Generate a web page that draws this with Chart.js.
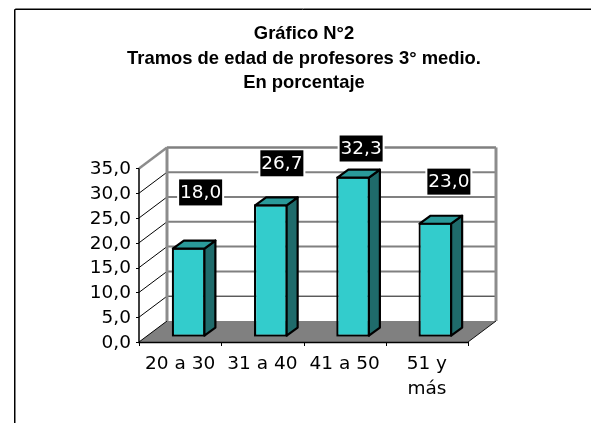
<!DOCTYPE html>
<html>
<head>
<meta charset="utf-8">
<style>html,body{margin:0;padding:0;background:#fff}canvas{display:block}#w{width:591px;height:423px;position:relative}</style>
<script src="https://cdn.jsdelivr.net/npm/chart.js@4/dist/chart.umd.min.js"></script>
</head>
<body>
<div id="w"><canvas id="c"></canvas></div>
<script>
const categories = [["20 a 30"], ["31 a 40"], ["41 a 50"], ["51 y", "más"]];
const values = [18.0, 26.7, 32.3, 23.0];
const titleLines = ["Gráfico N°2", "Tramos de edad de profesores 3° medio.", "En porcentaje"];
const yMax = 35;
const yStep = 5;

const DEPTH_X = 28, DEPTH_Y = 21;
const BAR_SHIFT_X = 8.5, BAR_SHIFT_Y = 5.3, BAR_DX = 11, BAR_DY = 8, BAR_LINE = 2.2;
const LABEL_OFFSET_X = [12, 11, 8, 13.5];
const LABEL_OFFSET_Y = [55, 41, 28, 41];

const box3d = {
  id: 'box3d',
  beforeDraw(chart) {
    const ctx = chart.ctx;
    const {left: L, right: R, top: T, bottom: B} = chart.chartArea;
    const y = chart.scales.y;
    ctx.save();
    // outer frame
    ctx.lineWidth = 1;
    ctx.strokeStyle = '#808080';
    ctx.beginPath(); ctx.moveTo(15.5, 423); ctx.lineTo(15.5, 8.5); ctx.lineTo(591, 8.5); ctx.stroke();
    ctx.strokeStyle = '#000';
    ctx.beginPath(); ctx.moveTo(14.5, 423); ctx.lineTo(14.5, 9.5); ctx.lineTo(591, 9.5); ctx.stroke();
    // floor
    ctx.fillStyle = '#808080';
    ctx.beginPath(); ctx.moveTo(L, B); ctx.lineTo(R, B); ctx.lineTo(R + DEPTH_X, B - DEPTH_Y); ctx.lineTo(L + DEPTH_X, B - DEPTH_Y); ctx.closePath(); ctx.fill();
    // wall gridlines and side-wall diagonals
    for (let v = 0; v <= yMax; v += yStep) {
      const py = y.getPixelForValue(v);
      const top = v === yMax;
      ctx.strokeStyle = top ? '#8c8c8c' : '#000'; ctx.lineWidth = top ? 2.5 : 1;
      ctx.beginPath(); ctx.moveTo(L, py); ctx.lineTo(L + DEPTH_X, py - DEPTH_Y); ctx.stroke();
      if (v > 0) {
        ctx.strokeStyle = v === yStep ? '#111' : '#808080'; ctx.lineWidth = v === yStep ? 1 : (top ? 2.5 : 2);
        ctx.beginPath(); ctx.moveTo(L + DEPTH_X, py - DEPTH_Y); ctx.lineTo(R + DEPTH_X, py - DEPTH_Y); ctx.stroke();
      }
    }
    // back-wall edges
    ctx.strokeStyle = '#8c8c8c'; ctx.lineWidth = 3;
    [L, R].forEach(px => {
      ctx.beginPath(); ctx.moveTo(px + DEPTH_X, T - DEPTH_Y); ctx.lineTo(px + DEPTH_X, B - DEPTH_Y); ctx.stroke();
    });
    // floor right edge
    ctx.strokeStyle = '#111'; ctx.lineWidth = 1;
    ctx.beginPath(); ctx.moveTo(R, B); ctx.lineTo(R + DEPTH_X, B - DEPTH_Y); ctx.stroke();
    // front axes
    ctx.strokeStyle = '#000'; ctx.lineWidth = 1.5;
    ctx.beginPath(); ctx.moveTo(L, T); ctx.lineTo(L, B + .5); ctx.lineTo(R, B + .5); ctx.stroke();
    ctx.lineWidth = 1;
    const n = categories.length;
    for (let i = 0; i <= n; i++) {
      const px = Math.round(L + (R - L) * i / n) + .5;
      ctx.beginPath(); ctx.moveTo(px, B); ctx.lineTo(px, B + 4); ctx.stroke();
    }
    for (let v = 0; v <= yMax; v += yStep) {
      const py = Math.round(y.getPixelForValue(v)) + .5;
      ctx.beginPath(); ctx.moveTo(L - 3, py); ctx.lineTo(L, py); ctx.stroke();
    }
    ctx.restore();
  },
  beforeDatasetDraw(chart) {
    chart.ctx.save();
    chart.ctx.translate(BAR_SHIFT_X, -BAR_SHIFT_Y);
  },
  afterDatasetDraw(chart) {
    const ctx = chart.ctx;
    const inset = BAR_LINE / 2;
    chart.getDatasetMeta(0).data.forEach(b => {
      const l = b.x - b.width / 2 + inset, r = b.x + b.width / 2 - inset, t = b.y + inset, base = b.base - inset;
      ctx.lineWidth = BAR_LINE; ctx.strokeStyle = '#000'; ctx.lineJoin = 'round';
      ctx.fillStyle = '#1f6b6b';
      ctx.beginPath(); ctx.moveTo(r, t); ctx.lineTo(r + BAR_DX, t - BAR_DY); ctx.lineTo(r + BAR_DX, base - BAR_DY); ctx.lineTo(r, base); ctx.closePath(); ctx.fill(); ctx.stroke();
      ctx.fillStyle = '#2a9a9a';
      ctx.beginPath(); ctx.moveTo(l, t); ctx.lineTo(l + BAR_DX, t - BAR_DY); ctx.lineTo(r + BAR_DX, t - BAR_DY); ctx.lineTo(r, t); ctx.closePath(); ctx.fill(); ctx.stroke();
    });
    ctx.restore();
  },
  afterDatasetsDraw(chart) {
    const ctx = chart.ctx;
    ctx.save();
    ctx.font = '18.5px "DejaVu Sans"';
    ctx.textAlign = 'center'; ctx.textBaseline = 'middle';
    chart.getDatasetMeta(0).data.forEach((b, i) => {
      const cx = b.x + BAR_SHIFT_X + LABEL_OFFSET_X[i];
      const cy = b.y - BAR_SHIFT_Y - LABEL_OFFSET_Y[i];
      ctx.fillStyle = '#fff'; ctx.fillRect(cx - 23.5, cy - 14, 47, 28);
      ctx.fillStyle = '#000'; ctx.fillRect(cx - 21.5, cy - 13, 43, 26);
      ctx.fillStyle = '#fff';
      ctx.fillText(values[i].toFixed(1).replace('.', ','), cx, cy + 1);
    });
    ctx.restore();
  }
};

new Chart(document.getElementById('c'), {
  type: 'bar',
  data: {
    labels: categories,
    datasets: [{
      data: values,
      backgroundColor: '#33cccc',
      borderColor: '#000',
      borderWidth: BAR_LINE,
      borderSkipped: false,
      barPercentage: 0.41,
      categoryPercentage: 1
    }]
  },
  options: {
    responsive: true,
    maintainAspectRatio: false,
    animation: false,
    layout: {padding: {left: 17, right: 0, top: 10, bottom: 0}},
    plugins: {
      legend: {display: false},
      tooltip: {enabled: false},
      title: {
        display: true,
        text: titleLines,
        color: '#000',
        font: {family: '"Liberation Sans"', size: 18.4, weight: 'bold', lineHeight: 1.33},
        padding: {top: 12, bottom: 73}
      }
    },
    scales: {
      x: {
        grid: {display: false},
        border: {display: false},
        ticks: {color: '#000', font: {family: '"DejaVu Sans"', size: 18.5, lineHeight: 1.35}, maxRotation: 0, autoSkip: false, padding: 2},
        afterFit(s) { s.height = 81; }
      },
      y: {
        min: 0, max: yMax,
        grid: {display: false, drawTicks: false},
        border: {display: false},
        ticks: {stepSize: yStep, color: '#000', font: {family: '"DejaVu Sans"', size: 18.5},
          autoSkip: false,
          padding: 8,
          labelOffset: 1,
          callback: v => v.toFixed(1).replace('.', ',')},
        afterFit(s) { s.width = 122; }
      },
      rightGap: {
        position: 'right',
        display: true,
        grid: {display: false},
        border: {display: false},
        ticks: {display: false},
        afterFit(s) { s.width = 123; }
      }
    }
  },
  plugins: [box3d]
});
</script>
</body>
</html>
